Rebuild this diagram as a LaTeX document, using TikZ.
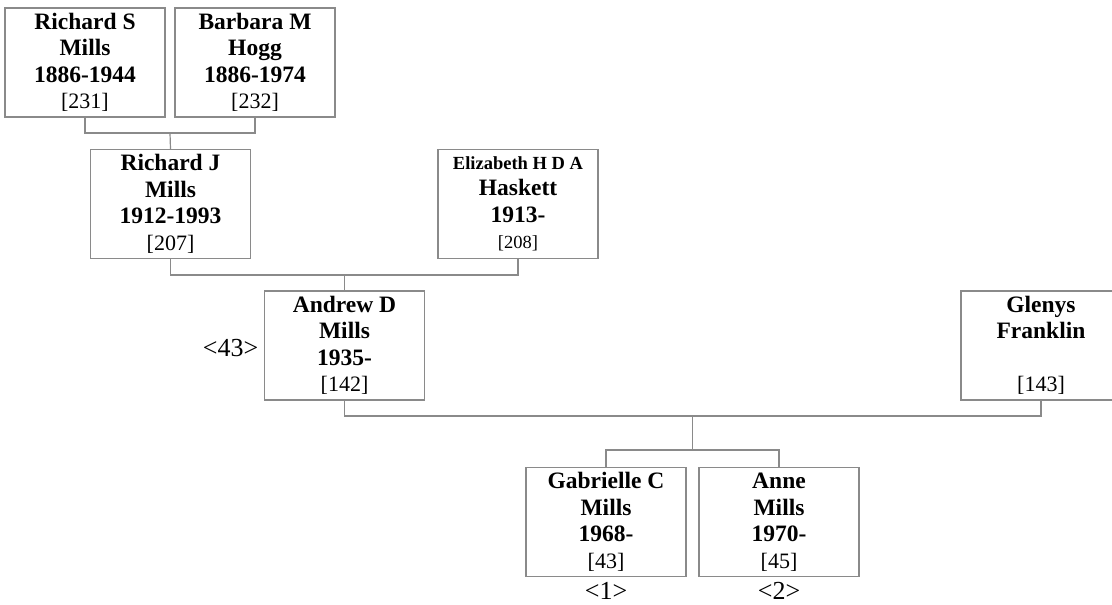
\documentclass[tikz,border=0pt]{standalone}
\usepackage{fontspec}
\setmainfont{Liberation Serif}
\definecolor{linegray}{RGB}{138,138,138}
\newcommand\numtxt[1]{{\fontsize{22}{26.5}\selectfont\mdseries #1}}
\newcommand\smalltxt[1]{{\fontsize{18.5}{26.5}\selectfont #1}}
\begin{document}
\begin{tikzpicture}[x=1pt,y=-1pt,
  pbox/.style={draw=linegray, line width=1.2pt, minimum width=160pt, minimum height=109pt,
    inner sep=0pt, align=center, font=\fontsize{23.5}{26.5}\selectfont\bfseries},
  conn/.style={draw=linegray, line width=1.2pt},
  lab/.style={inner sep=0pt, font=\fontsize{26}{28}\selectfont}]
\clip (0,0) rectangle (1112,605);
% people
\node[pbox] (rs) at (85,62.5) {Richard S\\Mills\\1886-1944\\\numtxt{[231]}};
\node[pbox] (bm) at (255,62.5) {Barbara M\\Hogg\\1886-1974\\\numtxt{[232]}};
\node[pbox] (rj) at (170.5,204) {Richard J\\Mills\\1912-1993\\\numtxt{[207]}};
\node[pbox] (eh) at (518,204) {\smalltxt{Elizabeth H D A}\\Haskett\\1913-\\\smalltxt{\mdseries [208]}};
\node[pbox] (ad) at (344.5,345.5) {Andrew D\\Mills\\1935-\\\numtxt{[142]}};
\node[pbox] (gf) at (1041,345.5) {Glenys\\Franklin\\\strut\\\numtxt{[143]}};
\node[pbox] (gc) at (606,522) {Gabrielle C\\Mills\\1968-\\\numtxt{[43]}};
\node[pbox] (an) at (779,522) {Anne\\Mills\\1970-\\\numtxt{[45]}};
% labels
\node[lab] (l43) at (230.5,348) {<43>};
\node[lab] (l1) at (606,591) {<1>};
\node[lab] (l2) at (779,591) {<2>};
% junctions
\coordinate (j1) at (170,133);
\coordinate (j2) at (344.5,275);
\coordinate (j3) at (692.75,416);
\coordinate (j4) at (692.75,450);
% connectors
\draw[conn] (rs.south) |- (j1) -| (bm.south);
\draw[conn] (j1) -- (rj.north);
\draw[conn] (rj.south) |- (j2) -| (eh.south);
\draw[conn] (j2) -- (ad.north);
\draw[conn] (ad.south) |- (j3) -| (gf.south);
\draw[conn] (j3) -- (j4);
\draw[conn] (gc.north) |- (j4) -| (an.north);
\end{tikzpicture}
\end{document}
